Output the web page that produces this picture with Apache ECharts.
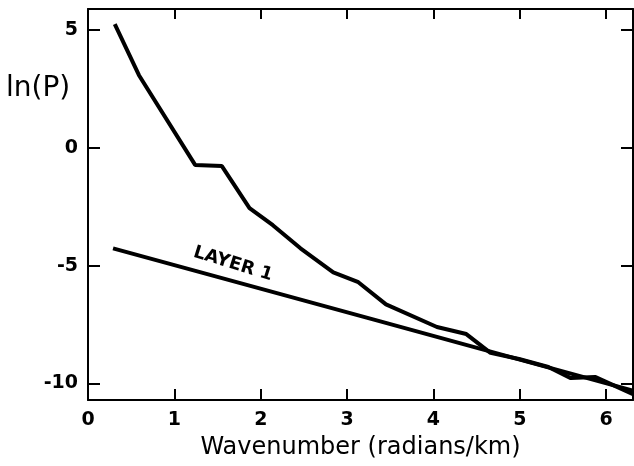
<!DOCTYPE html>
<html>
<head>
<meta charset="utf-8">
<script src="https://cdn.jsdelivr.net/npm/echarts@6/dist/echarts.min.js"></script>
<style>
  html, body { margin: 0; padding: 0; background: #fff; }
  #chart { width: 634px; height: 466px; }
</style>
</head>
<body>
<div id="chart"></div>
<script>
  // spectrum (wavenumber, ln P)
  var waveNumbers = [0.31, 0.59, 1.24, 1.55, 1.87, 2.14, 2.46, 2.84, 3.13, 3.45, 4.04, 4.38, 4.66, 4.99, 5.33, 5.59, 5.87, 6.31];
  var lnP = [5.26, 3.09, -0.72, -0.77, -2.55, -3.28, -4.26, -5.28, -5.7, -6.64, -7.6, -7.9, -8.7, -8.96, -9.3, -9.77, -9.72, -10.45];

  // straight fit labelled LAYER 1
  var layerX = [0.29, 3.3, 6.31];
  var layerY = [-4.26, -7.28, -10.3];

  var xTicks = [0, 1, 2, 3, 4, 5, 6];
  var yTicks = [-10, -5, 0, 5];

  function pairs(xs, ys) {
    return xs.map(function (x, i) { return [x, ys[i]]; });
  }

  var font = 'DejaVu Sans';
  var axisLine = { show: true, onZero: false, lineStyle: { color: '#000', width: 2 } };

  var chart = echarts.init(document.getElementById('chart'));
  chart.setOption({
    animation: false,
    grid: { left: 88, right: 1, top: 9, bottom: 66 },
    xAxis: [
      {
        type: 'value', min: 0, max: 6.31,
        name: 'Wavenumber (radians/km)', nameLocation: 'middle', nameGap: 36,
        nameTextStyle: { fontFamily: font, fontSize: 24, color: '#000' },
        axisLine: axisLine,
        axisTick: { inside: true, length: 11, lineStyle: { color: '#000', width: 2 }, customValues: xTicks },
        axisLabel: { customValues: xTicks, margin: 11, color: '#000', fontFamily: font, fontSize: 19, fontWeight: 'bold' },
        splitLine: { show: false }
      },
      {
        type: 'value', min: 0, max: 6.31, position: 'top',
        axisLine: axisLine,
        axisTick: { inside: true, length: 10, lineStyle: { color: '#000', width: 2 }, customValues: xTicks },
        axisLabel: { show: false },
        splitLine: { show: false }
      }
    ],
    yAxis: [
      {
        type: 'value', min: -10.7, max: 5.9,
        axisLine: axisLine,
        axisTick: { inside: true, length: 12, lineStyle: { color: '#000', width: 2 }, customValues: yTicks },
        axisLabel: { customValues: yTicks, margin: 10, color: '#000', fontFamily: font, fontSize: 19, fontWeight: 'bold' },
        splitLine: { show: false }
      },
      {
        type: 'value', min: -10.7, max: 5.9, position: 'right',
        axisLine: axisLine,
        axisTick: { inside: true, length: 12, lineStyle: { color: '#000', width: 2 }, customValues: yTicks },
        axisLabel: { show: false },
        splitLine: { show: false }
      }
    ],
    graphic: [
      {
        type: 'text', left: 6, top: 75,
        style: { text: 'ln(P)', font: '28px "DejaVu Sans"', fill: '#000' }
      },
      {
        type: 'text', x: 233, y: 264, rotation: -0.30,
        style: { text: 'LAYER 1', font: 'bold 18px "DejaVu Sans"', fill: '#000', align: 'center', verticalAlign: 'middle' }
      }
    ],
    series: [
      {
        type: 'line', data: pairs(waveNumbers, lnP), showSymbol: false,
        lineStyle: { color: '#000', width: 4 }, clip: true
      },
      {
        type: 'line', data: pairs(layerX, layerY), showSymbol: false,
        lineStyle: { color: '#000', width: 4 }, clip: true
      }
    ]
  });
</script>
</body>
</html>
